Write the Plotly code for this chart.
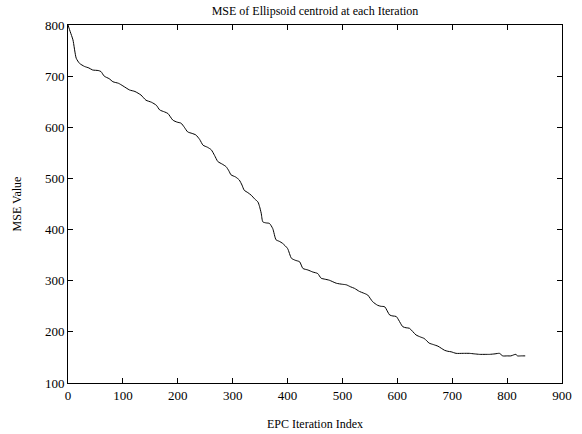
import plotly.graph_objects as go

iteration = [0, 4, 9, 15, 21, 30, 38, 45, 55, 60, 66, 75, 82, 92, 100, 112, 122, 133, 142, 152,
             161, 167, 176, 182, 191, 199, 206, 212, 218, 226, 233, 240, 246, 254, 261, 267, 273,
             281, 288, 293, 297, 305, 312, 317, 321, 328, 334, 340, 346, 349, 352, 355, 361, 367,
             373, 379, 385, 391, 400, 407, 414, 422, 428, 437, 446, 455, 461, 468, 476, 489, 500,
             507, 515, 522, 531, 538, 546, 555, 564, 570, 577, 586, 592, 598, 610, 616, 622, 634,
             642, 649, 658, 666, 674, 680, 686, 692, 698, 707, 720, 731, 740, 750, 760, 768, 778,
             786, 792, 800, 807, 812, 816, 819, 826, 833]
mse = [800, 787, 771, 735, 725, 719, 716, 712, 711, 709, 700, 695, 689, 686, 681, 673, 670, 663, 653, 649,
       643, 634, 630, 627, 614, 610, 608, 600, 591, 588, 585, 576, 565, 561, 556, 545, 533,
       528, 523, 515, 507, 503, 497, 487, 477, 472, 467, 460, 454, 445, 432, 415, 413, 412,
       402, 380, 377, 373, 363, 344, 340, 337, 324, 321, 317, 314, 305, 303, 301, 295, 293,
       292, 288, 285, 279, 276, 272, 259, 252, 250, 249, 233, 231, 230, 210, 208, 207, 194,
       190, 187, 178, 175, 172, 168, 164, 162, 161, 158, 158, 158, 157, 156, 156, 156, 157,
       158, 153, 153, 153, 155, 156, 153, 153, 153]

x_ticks = [0, 100, 200, 300, 400, 500, 600, 700, 800, 900]
y_ticks = [100, 200, 300, 400, 500, 600, 700, 800]

fig = go.Figure()
fig.add_trace(go.Scatter(x=iteration, y=mse, mode="lines",
                         line=dict(color="black", width=1, shape="spline", smoothing=0.6),
                         showlegend=False, hoverinfo="skip"))

serif = "Liberation Serif, Times New Roman, serif"
font = dict(family=serif, size=13, color="black")

fig.update_layout(
    width=582, height=434,
    margin=dict(l=68, r=20, t=25, b=51),
    paper_bgcolor="white", plot_bgcolor="white",
    font=font,
    title=dict(text="MSE of Ellipsoid centroid at each Iteration",
               x=(68 + 562) / 2 / 582, xanchor="center",
               y=1 - 11 / 434, yanchor="middle", yref="container",
               font=dict(family=serif, size=12, color="black")),
)
axis_common = dict(showgrid=False, zeroline=False, showline=True, linecolor="black", linewidth=1,
                   mirror="ticks", ticks="inside", ticklen=5, tickcolor="black", tickwidth=1,
                   tickfont=font, automargin=False)
fig.update_xaxes(range=[0, 900], tickvals=x_ticks,
                 title=dict(text="EPC Iteration Index", standoff=18,
                            font=dict(family=serif, size=12)),
                 **axis_common)
fig.update_yaxes(range=[100, 800], tickvals=y_ticks,
                 title=dict(text="MSE Value", standoff=20,
                            font=dict(family=serif, size=12)),
                 **axis_common)

fig.write_html("out.html", config={"displayModeBar": False},
               post_script="document.body.style.margin='0';")
